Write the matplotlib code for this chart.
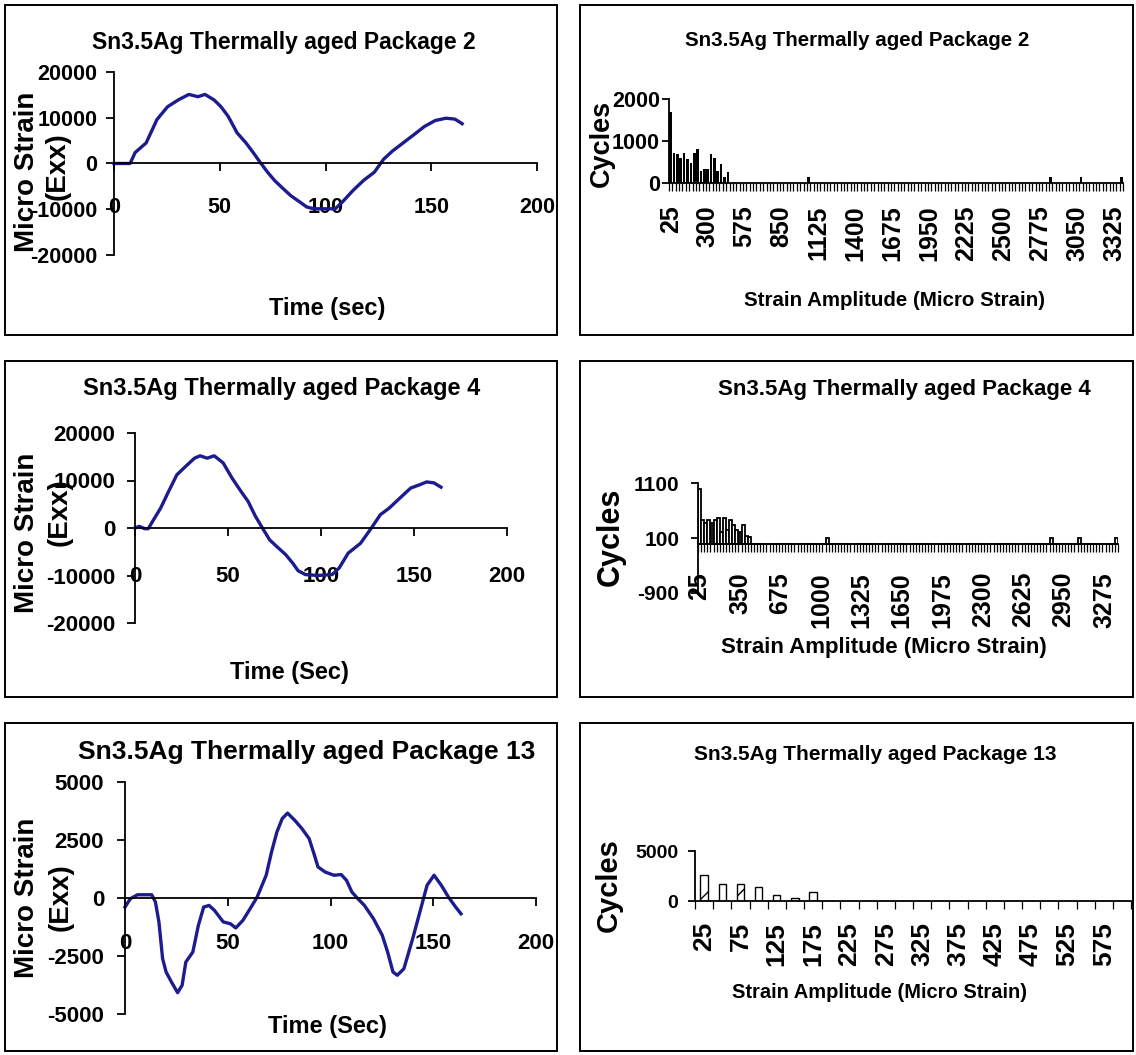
import matplotlib
matplotlib.use('Agg')
import matplotlib.pyplot as plt
from matplotlib.patches import Rectangle
import numpy as np

# Strain gauge traces (time in sec, micro strain Exx)
pkg2_time = [0, 7.6, 10, 15.2, 20.3, 25.3, 30.4, 35.4, 39.7, 43, 47.3, 50.6, 54, 58.2, 62.4,
             65.8, 69.2, 72.6, 75.9, 79.3, 83.5, 87.8, 91.1, 94.5, 104.6, 108, 113, 118, 123.1,
             127.4, 131.6, 136.7, 141.8, 146.8, 151.9, 157, 161.2, 164.6]
pkg2_strain = [0, 0, 2400, 4500, 9600, 12400, 13900, 15100, 14600, 15100, 13900, 12400, 10300,
               6700, 4500, 2400, 200, -1900, -3700, -5200, -7000, -8400, -9500, -9900, -9900,
               -8400, -5900, -3700, -1900, 900, 2700, 4500, 6300, 8100, 9400, 9900, 9700, 8700]

pkg4_time = [0, 2.3, 5.2, 7.1, 10, 13.8, 17.7, 22.5, 27.3, 32, 35, 38.8, 42.6, 47.4, 52.2, 57,
             60.8, 64.7, 68.5, 72.4, 76.2, 81, 84.8, 87.7, 91.6, 98.3, 106, 109.8, 114.6, 121.3,
             127.1, 131.9, 136.7, 142.4, 148.2, 153, 156.8, 160.7, 164.5]
pkg4_strain = [0, 350, -150, -150, 1750, 4200, 7400, 11200, 13000, 14700, 15200, 14700, 15200,
               13700, 10500, 7700, 5600, 2500, 0, -2500, -3900, -5600, -7400, -9000, -9800,
               -10000, -9800, -8400, -5300, -3200, 0, 2800, 4200, 6300, 8400, 9100, 9700, 9500, 8600]

pkg13_time = [0, 2.6, 6.1, 13, 14.8, 16.5, 18.3, 20, 22.6, 25.6, 27.8, 29.6, 33, 35.7, 38.3,
              40.9, 43.5, 47.8, 51.3, 53.9, 57.4, 60.9, 64.3, 68.7, 71.3, 73.9, 76.5, 79.1,
              82.6, 86.1, 89.6, 92.2, 93.9, 97.4, 101.7, 105.2, 107.8, 110.4, 113, 116.5,
              120.9, 125.2, 127.8, 130.4, 132.5, 135.7, 140, 143.5, 147, 150.4, 153.9, 157.4,
              160.9, 163.5]
pkg13_strain = [-390, -30, 140, 140, -170, -1030, -2610, -3190, -3620, -4080, -3760, -2760,
                -2330, -1180, -390, -320, -530, -1030, -1110, -1290, -960, -460, 40, 980, 1980,
                2840, 3420, 3660, 3350, 2990, 2560, 1840, 1340, 1120, 980, 1010, 760, 260, 0,
                -320, -890, -1610, -2330, -3190, -3330, -3050, -1750, -600, 550, 980, 550, 40,
                -390, -680]

# Rainflow histograms: strain amplitude bins and cycle counts
amp_bins = list(range(25, 3400, 25))
pkg2_cycles_low = [1700, 710, 700, 590, 710, 580, 470, 710, 820, 280, 330, 340, 700, 590,
                   280, 450, 150, 260]
pkg2_cycles_high = {1050: 140, 2850: 140, 3075: 140, 3375: 140}
pkg4_cycles_low = [1000, 430, 370, 430, 370, 430, 460, 210, 470, 240, 430, 335, 240, 210,
                   335, 140, 120]
pkg4_cycles_high = {1050: 100, 2850: 100, 3075: 100, 3375: 100}
pkg13_bins = list(range(25, 625, 25))
pkg13_cycles = [2600, 1750, 1750, 1450, 650, 320, 880]

W, H = 1136, 1055
LINE = '#1c1c8e'
FONT = 'Liberation Sans'

fig = plt.figure(figsize=(W / 100, H / 100), dpi=100)


def px_rect(left, top, right, bottom):
    return [left / W, 1 - bottom / H, (right - left) / W, (bottom - top) / H]


def frame(left, top, right, bottom):
    fig.add_artist(Rectangle((left / W, 1 - bottom / H), (right - left) / W, (bottom - top) / H,
                             transform=fig.transFigure, fill=False, lw=1.4, ec='black'))


def label(x, y, s, size, rotation=0):
    fig.text(x / W, 1 - y / H, s, ha='center', va='center', rotation=rotation,
             fontsize=size, fontweight='bold', family=FONT)


def fill_counts(bins, low, high):
    counts = [0] * len(bins)
    for i, v in enumerate(low):
        counts[i] = v
    for b, v in high.items():
        counts[bins.index(b)] = v
    return counts


def style_axes(ax):
    ax.patch.set_alpha(0)
    for side in ['top', 'right']:
        ax.spines[side].set_visible(False)
    # x axis crosses at zero, as in the spreadsheet charts
    ax.spines['bottom'].set_position(('data', 0))
    for side in ['left', 'bottom']:
        ax.spines[side].set_linewidth(1.3)


def strain_panel(rect, t, s, yticks, size, xpad, ypad):
    ax = fig.add_axes(px_rect(*rect))
    style_axes(ax)
    ax.plot(t, s, color=LINE, lw=2.4, solid_joinstyle='round', clip_on=False)
    ax.set_xlim(0, 200)
    ax.set_ylim(yticks[0], yticks[-1])
    xt = [0, 50, 100, 150, 200]
    ax.set_xticks(xt, [str(v) for v in xt], fontsize=size, fontweight='bold', family=FONT)
    ax.set_yticks(yticks, [str(v) for v in yticks], fontsize=size, fontweight='bold', family=FONT)
    ax.tick_params(axis='x', direction='out', length=6, width=1.3, pad=xpad)
    ax.tick_params(axis='y', direction='out', length=6, width=1.3, pad=ypad)
    return ax


def cycles_panel(rect, bins, counts, yticks, every, bar_kw, xsize, xpad, ysize, ypad):
    ax = fig.add_axes(px_rect(*rect))
    style_axes(ax)
    pos = np.arange(len(bins))
    ax.bar(pos, counts, **bar_kw)
    ax.set_xlim(-0.5, len(bins) - 0.5)
    ax.set_ylim(yticks[0], yticks[-1])
    ax.set_xticks(pos[::every], [str(b) for b in bins[::every]], rotation=90,
                  fontsize=xsize, fontweight='bold', family=FONT)
    ax.set_xticks(np.arange(len(bins) + 1) - 0.5, minor=True)
    ax.set_yticks(yticks, [str(v) for v in yticks], fontsize=ysize, fontweight='bold', family=FONT)
    ax.tick_params(axis='x', which='major', length=0, pad=xpad)
    ax.tick_params(axis='x', which='minor', direction='out', length=6, width=0.9)
    ax.tick_params(axis='y', direction='out', length=5, width=1.3, pad=ypad)
    return ax


# panel frames
for top, bottom in [(5, 335), (361, 697), (723, 1051)]:
    frame(5, top, 557, bottom)
    frame(580, top, 1133, bottom)

# left column: strain vs time
strain_panel((114, 72, 537, 255), pkg2_time, pkg2_strain, [-20000, -10000, 0, 10000, 20000],
             15.5, 18, 6)
label(284, 42, 'Sn3.5Ag Thermally aged Package 2', 16.5)
label(27, 172, 'Micro Strain', 20, 90)
label(58, 166, '(Exx)', 20, 90)
label(327, 308, 'Time (sec)', 17)

strain_panel((135, 433, 507, 623), pkg4_time, pkg4_strain, [-20000, -10000, 0, 10000, 20000],
             16, 21, 8)
label(282, 388, 'Sn3.5Ag Thermally aged Package 4', 17)
label(27, 533, 'Micro Strain', 20, 90)
label(60, 512, '(Exx)', 20, 90)
label(289, 672, 'Time (Sec)', 17)

strain_panel((125, 782, 536, 1014), pkg13_time, pkg13_strain, [-5000, -2500, 0, 2500, 5000],
             16, 19, 9)
label(307, 752, 'Sn3.5Ag Thermally aged Package 13', 19)
label(27, 898, 'Micro Strain', 20, 90)
label(61, 897, '(Exx)', 20, 90)
label(327, 1027, 'Time (Sec)', 17)

# right column: cycle histograms
cycles_panel((669, 99, 1123, 183), amp_bins, fill_counts(amp_bins, pkg2_cycles_low, pkg2_cycles_high),
             [0, 1000, 2000], 11, dict(width=0.8, color='black'), 18, 16, 15.5, 1.5)
label(857, 40, 'Sn3.5Ag Thermally aged Package 2', 14.8)
label(602, 143, 'Cycles', 19.5, 90)
label(895, 300, 'Strain Amplitude (Micro Strain)', 14.8)

cycles_panel((698, 483, 1118, 593), amp_bins, fill_counts(amp_bins, pkg4_cycles_low, pkg4_cycles_high),
             [-900, 100, 1100], 13, dict(width=0.9, facecolor='white', edgecolor='black', lw=1.3),
             18, 20.5, 15, 8.5)
label(904, 390, 'Sn3.5Ag Thermally aged Package 4', 16)
label(611, 537, 'Cycles', 22, 90)
label(884, 648, 'Strain Amplitude (Micro Strain)', 16)

pkg13_counts = fill_counts(pkg13_bins, pkg13_cycles, {})
cycles_panel((695, 851, 1131, 901), pkg13_bins, pkg13_counts, [0, 5000], 2,
             dict(width=0.4, facecolor='white', edgecolor='black', lw=1.0, hatch='/'),
             19, 15, 14, 7)
label(875, 755, 'Sn3.5Ag Thermally aged Package 13', 15)
label(609, 885, 'Cycles', 21, 90)
label(879, 992, 'Strain Amplitude (Micro Strain)', 14.5)

fig.savefig('out.png', dpi=100)
